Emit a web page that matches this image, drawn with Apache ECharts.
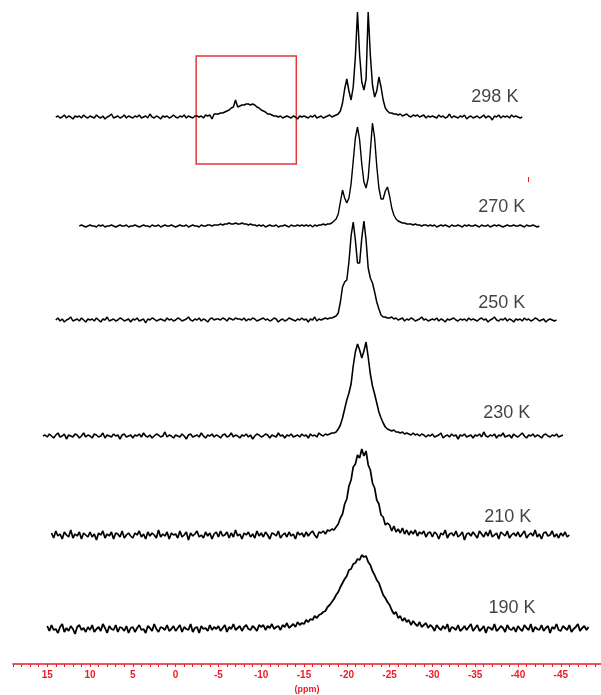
<!DOCTYPE html>
<html>
<head>
<meta charset="utf-8">
<script src="https://cdn.jsdelivr.net/npm/echarts@6/dist/echarts.min.js"></script>
<style>
html, body { margin: 0; padding: 0; background: #fff; }
#chart { width: 601px; height: 695px; }
</style>
</head>
<body>
<div id="chart"></div>
<script>
// stacked spectra, intensity (above each baseline), 0.25 ppm grid
var ppmStep = 0.25;
var temps = ['298 K', '270 K', '250 K', '230 K', '210 K', '190 K'];
var startPpm = [14, 11.25, 14, 15.5, 14.5, 15];
var stackOffset = [547, 438, 344, 228, 129, 35];

var int298 = [
  0,1,-1,0,2,-1,1,0,-2,1,0,1,-1,2,0,-1,                      // 14
  1,0,-1,2,0,-1,1,-2,0,1,3,-1,0,1,-1,0,2,-1,1,0,             // 10
  -1,1,0,2,-1,0,1,-1,3,0,-1,1,0,-2,1,0,1,-1,0,2,             // 5
  0,-1,1,0,2,-1,1,0,-1,1,1,0,1,-1,2,1,2,-2,3,3,              // 0
  3,4,4,5,6,7,9,10,17,10,11,12,12,13,13,12,13,12,10,9,       // -5
  7,6,5,3,3,2,1,1,0,1,-1,0,1,0,-1,1,0,-2,1,0,                // -10
  1,0,-1,1,0,2,-1,0,1,-1,0,1,2,0,1,2,3,6,14,28,              // -15
  38,26,17,30,60,105,62,35,27,38,105,62,32,20,26,40,30,17,9,6, // -20
  4,4,3,3,2,3,1,2,3,1,0,2,1,2,0,1,2,-1,1,0,                  // -25
  1,0,-1,2,0,1,-1,0,3,-1,1,0,-1,1,0,2,-2,0,1,-1,             // -30
  0,1,-1,0,2,-1,1,0,-3,1,0,2,-1,1,0,1,-1,2,0,1,              // -35
  0,-1,0                                                     // -40
];
var int270 = [
  0,1,0,-1,0,                                                // 11.25
  1,0,0,-1,1,0,1,-1,0,0,1,0,-1,0,1,0,0,1,-1,0,               // 10
  0,1,0,-1,0,1,0,0,-1,1,0,0,1,-1,0,1,0,0,1,0,                // 5
  -1,0,1,0,0,1,-1,0,1,0,0,-1,1,0,0,1,1,0,1,1,                // 0
  1,2,1,2,2,3,2,2,3,2,2,3,2,2,1,2,1,1,0,1,                   // -5
  0,1,-1,0,1,0,0,1,-1,0,0,1,0,-1,1,0,0,1,0,1,                // -10
  0,1,0,1,-1,1,0,1,1,2,1,2,2,3,5,7,12,24,36,28,              // -15
  23,28,42,65,88,99,86,62,44,38,48,75,103,88,60,38,27,27,35,39, // -20
  30,18,11,7,5,4,3,3,2,2,2,1,2,1,1,0,1,1,0,1,                // -25
  0,1,-1,0,1,0,1,0,-1,1,0,0,1,0,-1,1,0,1,0,0,                // -30
  1,0,-1,1,0,0,1,-1,0,1,0,1,0,-1,0,1,0,0,1,0,                // -35
  0,1,0,-1,1,0,0,1,0,-1,0                                    // -40
];
var int250 = [
  0,2,-1,1,-2,0,1,3,-1,0,1,-1,2,0,-2,1,                      // 14
  0,1,-1,2,0,-2,1,0,3,-1,0,1,-1,0,2,1,-1,0,1,-2,             // 10
  1,0,2,-1,0,1,-3,1,0,2,1,-1,0,1,0,-1,2,0,1,-1,              // 5
  0,2,1,-1,0,1,3,0,-1,1,0,2,-1,1,0,-2,1,2,0,1,               // 0
  1,0,2,1,-1,2,1,0,2,1,1,0,2,-1,1,0,2,1,-1,0,                // -5
  1,2,0,1,-1,0,2,1,-2,0,1,-1,0,2,1,0,-1,1,0,2,               // -10
  0,1,-2,1,0,3,-1,1,0,1,2,1,2,2,3,4,7,18,33,38,              // -15
  40,58,84,98,80,57,57,82,99,80,52,42,37,28,18,11,5,3,3,2,   // -20
  2,3,1,2,0,1,2,-1,1,0,2,1,-1,0,1,3,0,1,-1,0,                // -25
  1,0,2,-1,1,0,-2,1,0,1,2,0,-1,1,0,1,-1,2,0,1,               // -30
  0,-1,1,2,0,1,-2,0,1,3,0,-1,1,0,2,-1,1,0,-2,1,              // -35
  0,1,-1,2,0,1,-1,0,2,1,-1,0,1,-2,0,1,0,-1,0                 // -40
];
var int230 = [
  0,1,                                                       // 15.5
  -1,2,0,-2,1,3,-1,0,2,-3,1,0,-1,2,1,-2,0,3,-1,1,            // 15
  0,-2,2,1,-1,0,3,-2,1,0,-1,2,0,1,-3,1,2,-1,0,1,             // 10
  -2,1,0,2,-1,3,0,-1,1,-2,0,2,1,-1,0,4,-1,1,0,-2,            // 5
  1,0,-1,2,0,-3,1,2,-1,0,1,-1,3,0,-2,1,0,2,-1,1,             // 0
  0,-2,1,2,-1,0,3,-1,1,0,-2,1,0,2,-1,1,-3,0,2,1,             // -5
  -1,0,2,1,-2,1,0,-1,3,0,1,-2,1,0,2,-1,0,1,-1,2,             // -10
  0,1,-2,2,0,1,-1,3,1,0,2,1,2,3,3,4,7,11,18,27,              // -15
  36,43,52,70,84,92,86,78,85,94,79,62,50,42,33,24,18,13,9,7, // -20
  6,5,6,4,4,3,4,2,3,2,1,3,1,2,0,2,1,-1,1,0,                  // -25
  2,-1,0,1,3,-2,0,1,-1,2,0,1,-3,1,0,2,-1,0,1,-2,             // -30
  1,0,2,-1,4,0,-1,1,0,2,-2,1,0,3,-1,0,1,-2,2,0,              // -35
  -1,1,3,0,-2,1,0,2,-1,1,0,-2,1,2,0,-1,1,0,2,-1,             // -40
  0,1                                                        // -45
];
var int210 = [
  2,-3,4,-1,1,-4,3,0,-2,5,-3,1,-1,3,-4,2,0,-2,               // 14.5
  3,-2,1,-5,2,0,4,-3,1,-1,3,-4,2,1,-2,4,-3,0,2,-1,           // 10
  -3,2,0,4,-2,1,-4,3,-1,2,0,-3,5,-2,1,-1,3,-4,2,0,           // 5
  1,-3,4,-2,0,3,-5,2,-1,1,4,-2,0,-3,3,-1,2,-4,1,3,           // 0
  -2,4,-1,0,3,-3,2,-2,5,-1,1,-4,2,0,3,-2,1,-3,4,-1,          // -5
  2,-2,3,0,-4,2,1,-1,4,-3,0,2,-2,3,-1,1,-4,3,0,2,            // -10
  -2,3,-1,2,4,0,-3,3,2,4,1,5,4,6,5,8,11,17,21,31,            // -15
  36,49,55,68,71,80,77,86,79,84,70,65,52,47,35,31,20,18,10,12, // -20
  10,4,9,3,6,2,7,1,5,0,4,1,5,-1,3,1,4,-2,2,3,                // -25
  -2,3,1,-4,2,0,5,-3,1,2,-1,4,-2,0,3,-5,1,2,-1,3,            // -30
  0,-3,4,1,-2,3,-1,5,-2,0,2,-4,3,1,-1,4,-3,0,2,-1,           // -35
  3,-2,1,4,-3,0,2,-1,5,-2,1,-4,2,3,-1,0,4,-2,1,-3,           // -40
  2,-1,3,-2,0                                                // -45
];
var int190 = [
  3,-2,4,-1,0,-4,2,5,-3,1,-2,3,0,-5,2,4,-1,1,-3,2,           // 15
  -1,4,-3,0,2,-2,5,1,-4,3,0,-1,4,-3,2,1,-2,3,-4,1,           // 10
  2,-3,1,4,-1,0,-4,3,1,-2,5,0,-3,2,1,-1,4,-2,0,3,            // 5
  -2,1,4,-3,2,0,-1,5,-3,1,2,-4,3,0,1,-2,4,-1,2,0,            // 0
  3,-2,1,4,-3,2,0,5,-1,1,3,-2,2,4,0,-1,3,1,-2,4,             // -5
  2,4,-1,3,1,5,0,2,3,-1,4,2,6,1,3,5,2,7,4,6,                 // -10
  5,9,7,10,9,13,11,14,15,17,18,22,24,27,30,34,37,42,46,50,   // -15
  53,59,60,65,66,70,69,74,72,73,67,64,58,54,49,46,40,34,31,27, // -20
  24,19,15,17,11,13,8,11,7,9,4,8,5,3,7,2,4,6,1,4,            // -25
  2,-2,4,1,-1,3,0,5,-3,2,1,-1,4,-2,0,3,-1,2,5,-2,            // -30
  1,4,-2,0,3,-4,2,1,-1,5,-2,0,3,1,-3,4,0,-1,2,-3,            // -35
  3,0,-2,4,1,-1,5,-3,2,0,-1,4,-2,1,3,-4,2,0,5,-1,            // -40
  -2,3,1,-1,4,-3,0,2,5,-2,1,3,-1,2                           // -45
];

var labelPpm = [15, 10, 5, 0, -5, -10, -15, -20, -25, -30, -35, -40, -45];
var boxPpm = [-2.4, -14.1];
var boxLevel = [500, 608];

var spectra = [int298, int270, int250, int230, int210, int190];

var minorTicks = [];
for (var t = 19; t >= -49; t--) minorTicks.push(t);

var red = '#ec1c24';
var traceWidth = [1.5, 1.4, 1.5, 1.6, 1.7, 1.8];

var chart = echarts.init(document.getElementById('chart'));

var series = spectra.map(function (arr, k) {
	return {
		name: temps[k],
		type: 'line',
		showSymbol: false,
		silent: true,
		data: arr.map(function (v, i) {
			return [startPpm[k] - i * ppmStep, stackOffset[k] + v];
		}),
		lineStyle: {
			color: '#000',
			width: traceWidth[k]
		}
	};
});

// red box around the broad signal
series[0].markArea = {
	silent: true,
	itemStyle: {
		color: 'rgba(0,0,0,0)',
		borderColor: '#e0393b',
		borderWidth: 1.5
	},
	data: [[
		{ coord: [boxPpm[0], boxLevel[1]] },
		{ coord: [boxPpm[1], boxLevel[0]] }
	]]
};
// small stray red mark
series[1].markLine = {
	silent: true,
	symbol: ['none', 'none'],
	label: { show: false },
	lineStyle: { color: red, width: 1, type: 'solid' },
	data: [[{ coord: [-41.2, 482] }, { coord: [-41.2, 487] }]]
};

// temperature labels
var labelSpot = [[-37.3, 567], [-38.1, 457], [-38.1, 361], [-38.7, 251], [-38.8, 147], [-39.3, 56]];
series.push({
	type: 'scatter',
	silent: true,
	symbolSize: 0,
	data: labelSpot.map(function (p, k) { return [p[0], p[1], temps[k]]; }),
	label: {
		show: true,
		position: 'inside',
		formatter: function (p) { return p.value[2]; },
		color: '#111',
		textBorderWidth: 0,
		textBorderColor: 'transparent',
		fontSize: 18,
		fontFamily: 'Liberation Sans'
	}
});

var option = {
	animation: false,
	backgroundColor: '#fff',
	grid: {
		left: 13,
		right: 0,
		top: 0,
		bottom: 31,
		containLabel: false,
		outerBoundsMode: 'none'
	},
	xAxis: {
		type: 'value',
		inverse: true,
		min: -49.7,
		max: 19,
		axisLine: {
			lineStyle: { color: red, width: 1.5 }
		},
		axisTick: {//刻度
			show: true,
			inside: false,
			length: 3,
			customValues: minorTicks,
			lineStyle: { color: red, width: 1 }
		},
		axisLabel: {
			customValues: labelPpm,
			color: red,
			fontSize: 10,
			fontWeight: 'bold',
			fontFamily: 'Liberation Sans',
			margin: 6
		},
		splitLine: { show: false },
		name: '(ppm)',
		nameLocation: 'middle',
		nameGap: 20,
		nameTextStyle: {
			color: red,
			fontSize: 9,
			fontWeight: 'bold',
			fontFamily: 'Liberation Sans'
		}
	},
	yAxis: {
		type: 'value',
		min: 0,
		max: 664,
		show: false
	},
	series: series
};
chart.setOption(option);
</script>
</body>
</html>
